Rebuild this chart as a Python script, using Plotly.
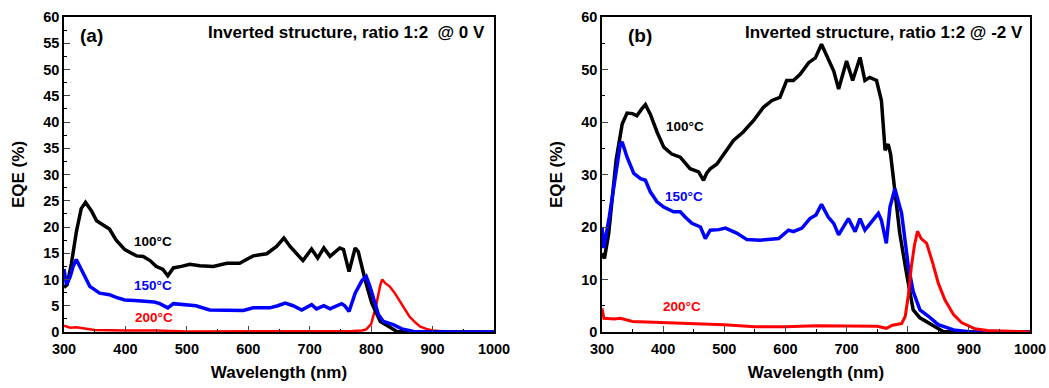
import plotly.graph_objects as go

# ---------------- Panel (a): @ 0 V ----------------
a_wl_100 = [300, 305, 312, 320, 328, 335, 345, 353, 365, 374, 385, 399, 410, 418, 429, 440, 450, 461, 469,
            478, 491, 505, 521, 543, 565, 586, 597, 608, 619, 630, 646, 658, 668, 679, 689, 703, 713, 723,
            733, 749, 755, 764, 774, 779, 790, 801, 815, 828, 842, 853, 870, 1000]
a_eqe_100 = [8.5, 9.0, 13.0, 19.0, 23.5, 24.7, 23.0, 21.2, 20.3, 19.6, 17.5, 15.7, 15.0, 14.5, 14.4, 13.6, 12.5, 11.9, 10.7,
             12.2, 12.5, 12.9, 12.6, 12.5, 13.1, 13.1, 13.8, 14.5, 14.7, 14.9, 16.3, 17.9, 16.3, 15.0, 13.6, 15.8, 14.1, 16.0,
             14.4, 16.0, 15.7, 11.5, 16.0, 15.3, 10.0, 5.5, 2.0, 1.1, 0.1, 0.0, 0.0, 0.0]

a_wl_150 = [300, 304, 310, 315, 320, 331, 342, 358, 374, 385, 399, 415, 434, 447, 456, 469, 478, 499, 515, 537,
            560, 592, 608, 635, 648, 660, 673, 687, 703, 711, 723, 733, 752, 757, 764, 774, 785, 792, 798, 805,
            812, 820, 836, 850, 869, 890, 1000]
a_eqe_150 = [12.0, 9.0, 10.5, 12.5, 13.8, 11.2, 8.7, 7.4, 7.1, 6.6, 6.1, 6.0, 5.8, 5.7, 5.4, 4.6, 5.4, 5.2, 5.0, 4.2,
             4.1, 4.1, 4.6, 4.6, 5.0, 5.5, 5.0, 4.2, 5.2, 4.4, 5.0, 4.4, 5.4, 5.0, 3.9, 7.4, 9.8, 10.6, 8.7, 6.0,
             3.3, 2.0, 1.4, 0.6, 0.1, 0.0, 0.0]

a_wl_200 = [300, 305, 310, 320, 335, 350, 400, 450, 500, 600, 700, 770, 785, 792, 800, 808, 815, 818, 823, 830,
            838, 847, 855, 862, 872, 880, 890, 900, 920, 950, 1000]
a_eqe_200 = [1.2, 1.0, 0.8, 0.9, 0.6, 0.4, 0.3, 0.3, 0.1, 0.1, 0.1, 0.2, 0.3, 0.5, 1.5, 5.0, 9.0, 10.0, 9.3, 8.7,
             7.5, 5.8, 4.2, 3.0, 1.8, 1.0, 0.6, 0.3, 0.1, 0.05, 0.0]

# ---------------- Panel (b): @ -2 V ----------------
b_wl_100 = [300, 304, 311, 317, 323, 333, 341, 350, 357, 365, 371, 379, 390, 401, 414, 428, 444, 458, 466,
            471, 477, 488, 499, 515, 531, 548, 564, 578, 591, 602, 613, 624, 638, 649, 659, 666, 673, 679, 687,
            700, 710, 722, 730, 738, 749, 757, 763, 768, 772, 777, 787, 798, 809, 820, 842, 858, 880, 1000]
b_eqe_100 = [15.0, 14.0, 18.8, 26.0, 32.7, 39.6, 41.7, 41.6, 41.2, 42.5, 43.3, 41.5, 38.1, 35.2, 33.9, 33.3, 31.1, 30.5, 28.9,
             30.2, 31.1, 32.0, 33.9, 36.5, 38.1, 40.3, 42.8, 44.1, 44.7, 47.9, 47.9, 49.1, 51.3, 52.2, 54.8, 53.0, 51.0, 49.7, 46.3,
             51.6, 47.9, 52.3, 47.9, 48.5, 47.9, 44.1, 34.6, 35.8, 33.9, 28.9, 18.8, 11.2, 4.2, 2.7, 1.1, 0.1, 0.0, 0.0]

b_wl_150 = [300, 303, 312, 322, 330, 333, 341, 352, 363, 371, 379, 390, 401, 417, 428, 436, 447, 461, 469,
            477, 482, 491, 502, 521, 537, 559, 589, 605, 613, 627, 640, 650, 659, 670, 679, 687, 703, 714,
            722, 730, 752, 757, 765, 771, 779, 790, 801, 809, 820, 834, 850, 875, 900, 1000]
b_eqe_150 = [20.0, 16.0, 22.0, 30.0, 35.8, 36.2, 33.3, 30.2, 29.2, 28.9, 26.7, 24.8, 23.8, 22.9, 22.9, 21.9, 20.7, 20.0, 17.8,
             19.4, 19.4, 19.5, 19.8, 18.8, 17.6, 17.5, 17.8, 19.4, 19.1, 19.8, 21.6, 22.3, 24.3, 21.9, 20.7, 18.5, 21.6, 19.1,
             21.6, 19.4, 22.6, 21.3, 16.9, 23.8, 27.3, 22.6, 12.5, 7.7, 4.2, 3.0, 1.4, 0.4, 0.05, 0.0]

b_wl_200 = [300, 303, 320, 330, 350, 400, 450, 500, 550, 600, 650, 700, 750, 765, 775, 790, 796, 801, 806, 811,
            816, 822, 831, 841, 850, 861, 875, 888, 910, 930, 960, 1000]
b_eqe_200 = [4.5, 2.6, 2.5, 2.6, 2.0, 1.8, 1.7, 1.4, 1.0, 1.0, 1.2, 1.1, 1.1, 0.7, 1.3, 1.6, 3.0, 7.0, 12.5, 16.5,
             19.2, 17.8, 16.9, 13.1, 9.3, 6.1, 3.3, 1.8, 0.6, 0.3, 0.15, 0.0]

x_ticks = [300, 400, 500, 600, 700, 800, 900, 1000]
a_y_ticks = list(range(0, 61, 5))
b_y_ticks = list(range(0, 61, 10))

FONT = "Arial, Liberation Sans, sans-serif"

fig = go.Figure()

def add(x, y, color, width, xa, ya):
    fig.add_trace(go.Scatter(x=x, y=y, mode="lines", line=dict(color=color, width=width),
                             xaxis=xa, yaxis=ya, showlegend=False, hoverinfo="skip"))

add(a_wl_200, a_eqe_200, "#ff0000", 2.5, "x", "y")
add(a_wl_100, a_eqe_100, "#000000", 3.5, "x", "y")
add(a_wl_150, a_eqe_150, "#0000ff", 3.5, "x", "y")
add(b_wl_100, b_eqe_100, "#000000", 3.5, "x2", "y2")
add(b_wl_150, b_eqe_150, "#0000ff", 3.5, "x2", "y2")
add(b_wl_200, b_eqe_200, "#ff0000", 3, "x2", "y2")

common_x = dict(range=[300, 1000], tickvals=x_ticks, ticks="inside", ticklen=6, tickwidth=1.2,
                showline=True, linecolor="black", linewidth=1.5, mirror=True, showgrid=False, zeroline=False,
                tickfont=dict(family=FONT, size=14.5, color="black"), ticklabelstandoff=3,
                minor=dict(dtick=50, ticks="inside", ticklen=3, tickwidth=1, tickcolor="black"),
                title=dict(text="<b>Wavelength (nm)</b>", font=dict(family=FONT, size=17, color="black"), standoff=10),
                automargin=False)
common_y = dict(range=[0, 60], ticks="inside", ticklen=6, tickwidth=1.2,
                showline=True, linecolor="black", linewidth=1.5, mirror=True, showgrid=False, zeroline=False,
                tickfont=dict(family=FONT, size=14.5, color="black"),
                title=dict(text="<b>EQE (%)</b>", font=dict(family=FONT, size=17, color="black"), standoff=14),
                automargin=False)

fig.update_layout(
    width=1049, height=388,
    margin=dict(l=0, r=0, t=0, b=0),
    paper_bgcolor="white", plot_bgcolor="white",
    xaxis=dict(common_x, domain=[64/1049, 494/1049], anchor="y",
               ticktext=[f"<b>{v}</b>" for v in x_ticks]),
    yaxis=dict(common_y, domain=[56/388, 371/388], anchor="x", tickvals=a_y_ticks,
               ticktext=[f"<b>{v}</b>" for v in a_y_ticks],
               minor=dict(dtick=2.5, ticks="inside", ticklen=3, tickwidth=1, tickcolor="black")),
    xaxis2=dict(common_x, domain=[602/1049, 1030/1049], anchor="y2",
                ticktext=[f"<b>{v}</b>" for v in x_ticks]),
    yaxis2=dict(common_y, domain=[56/388, 371/388], anchor="x2", tickvals=b_y_ticks,
                ticktext=[f"<b>{v}</b>" for v in b_y_ticks],
                minor=dict(dtick=5, ticks="inside", ticklen=3, tickwidth=1, tickcolor="black")),
)

def note(text, x, y, xref, yref, size, color="black", xanchor="center"):
    fig.add_annotation(text=f"<b>{text}</b>", x=x, y=y, xref=xref, yref=yref, showarrow=False,
                       xanchor=xanchor, yanchor="middle", font=dict(family=FONT, size=size, color=color))

note("(a)", 322, 56.5, "x", "y", 19, xanchor="left")
note("Inverted structure, ratio 1:2&nbsp;&nbsp;@ 0 V", 989, 57, "x", "y", 17, xanchor="right")
note("100°C", 445, 17.3, "x", "y", 13.5)
note("150°C", 445, 8.8, "x", "y", 13.5, color="#0000ff")
note("200°C", 447, 2.7, "x", "y", 13.5, color="#ff0000")

note("(b)", 339, 56.5, "x2", "y2", 19, xanchor="left")
note("Inverted structure, ratio 1:2 @ -2 V", 992, 57, "x2", "y2", 17, xanchor="right")
note("100°C", 436, 39.1, "x2", "y2", 13.5)
note("150°C", 434, 25.8, "x2", "y2", 13.5, color="#0000ff")
note("200°C", 431, 4.9, "x2", "y2", 13.5, color="#ff0000")

fig.write_html("out.html")
